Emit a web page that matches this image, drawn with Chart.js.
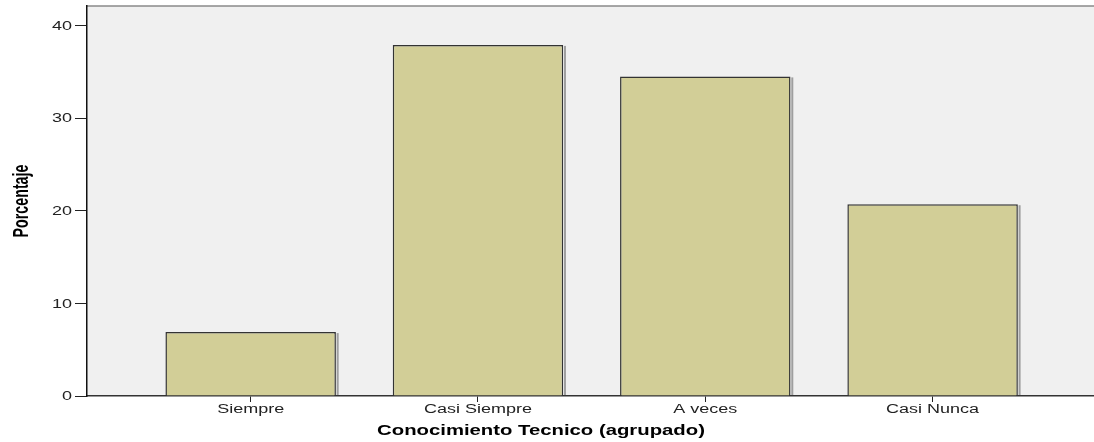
<!DOCTYPE html>
<html>
<head>
<meta charset="utf-8">
<title>Conocimiento Tecnico (agrupado)</title>
<script src="https://cdn.jsdelivr.net/npm/chart.js@4.4.1/dist/chart.umd.min.js"></script>
<style>
    html, body { margin: 0; padding: 0; background: #fff; }
    .chart-container { width: 1094px; height: 442px; position: relative; }
</style>
</head>
<body>
<div class="chart-container"><canvas id="myChart"></canvas></div>
<script>
// données
const categories = ['Siempre', 'Casi Siempre', 'A veces', 'Casi Nunca'];
const porcentaje = [6.9, 37.9, 34.5, 20.7];
const yTicks = [0, 10, 20, 30, 40];
const xTitle = 'Conocimiento Tecnico (agrupado)';
const yTitle = 'Porcentaje';

// l'image d'origine est étirée en largeur : on étire le texte pareil
const STRETCH = 1.5;
const FONT = '"Liberation Sans", Arial, sans-serif';

function stretchedText(ctx, txt, x, y, sx, sy, rot) {
    ctx.save();
    ctx.translate(x, y);
    ctx.scale(sx, sy);
    if (rot) ctx.rotate(rot);
    ctx.fillText(txt, 0, 0);
    ctx.restore();
}

// fond gris de la zone du graphe + bordure du haut + textes
const decor = {
    id: 'decor',
    beforeDraw(chart) {
        const { ctx, chartArea: a } = chart;
        ctx.save();
        ctx.fillStyle = '#f0f0f0';
        ctx.fillRect(a.left, a.top, a.right - a.left, a.bottom - a.top);
        ctx.strokeStyle = '#8a8a8a';
        ctx.lineWidth = 1.5;
        ctx.beginPath();
        ctx.moveTo(a.left, a.top);
        ctx.lineTo(a.right, a.top);
        ctx.stroke();
        ctx.restore();
    },
    afterDatasetsDraw(chart) {
        // petite ombre à droite des barres
        const { ctx } = chart;
        const meta = chart.getDatasetMeta(0);
        ctx.save();
        ctx.fillStyle = 'rgba(60,60,60,0.45)';
        meta.data.forEach(bar => {
            const r = bar.x + bar.width / 2;
            ctx.fillRect(r + 0.75, bar.y + 1, 2, bar.base - bar.y - 1);
        });
        ctx.restore();
    },
    afterDraw(chart) {
        const { ctx, scales } = chart;
        ctx.save();
        ctx.fillStyle = '#222';
        ctx.font = '12px ' + FONT;
        ctx.textBaseline = 'middle';

        // étiquettes de l'axe x
        ctx.textAlign = 'center';
        categories.forEach((c, i) => {
            stretchedText(ctx, c, scales.x.getPixelForValue(i), 410, STRETCH, 1);
        });

        // étiquettes de l'axe y
        ctx.textAlign = 'right';
        yTicks.forEach(v => {
            stretchedText(ctx, String(v), 72, scales.y.getPixelForValue(v) + 1, STRETCH, 1);
        });

        // titres des axes
        ctx.fillStyle = '#000';
        ctx.font = 'bold 14px ' + FONT;
        ctx.textAlign = 'center';
        stretchedText(ctx, xTitle, 541, 431, 1.45, 1);

        ctx.font = 'bold 15px ' + FONT;
        stretchedText(ctx, yTitle, 22, 201, STRETCH, 0.95, -Math.PI / 2);
        ctx.restore();
    }
};

const ctx = document.getElementById('myChart').getContext('2d');
const myChart = new Chart(ctx, {
    type: 'bar',
    data: {
        datasets: [{
            label: yTitle,
            data: porcentaje.map((v, i) => ({ x: i, y: v })),
            backgroundColor: '#d2ce97',
            borderColor: '#333',
            borderWidth: 1.5,
            barPercentage: 0.75,
            categoryPercentage: 1
        }]
    },
    options: {
        responsive: true,
        maintainAspectRatio: false,
        animation: false,
        layout: { padding: { top: 6, right: 0, left: 0, bottom: 0 } },
        plugins: { legend: { display: false }, tooltip: { enabled: false } },
        scales: {
            x: {
                type: 'linear',
                min: -0.72,
                max: 3.71,
                offset: false,
                afterBuildTicks: s => { s.ticks = categories.map((c, i) => ({ value: i })); },
                afterFit: s => { s.height = 46; },
                ticks: { display: false },
                grid: { display: true, offset: false, drawOnChartArea: false, drawTicks: true, tickLength: 6, color: '#222' },
                border: { display: true, color: '#333', width: 1.5 }
            },
            y: {
                min: 0,
                max: 42.1,
                afterBuildTicks: s => { s.ticks = yTicks.map(v => ({ value: v })); },
                afterFit: s => { s.width = 87; },
                ticks: { display: false },
                grid: { display: true, drawOnChartArea: false, drawTicks: true, tickLength: 12, color: '#222' },
                border: { display: true, color: '#111', width: 1.5 }
            }
        }
    },
    plugins: [decor]
});
</script>
</body>
</html>
